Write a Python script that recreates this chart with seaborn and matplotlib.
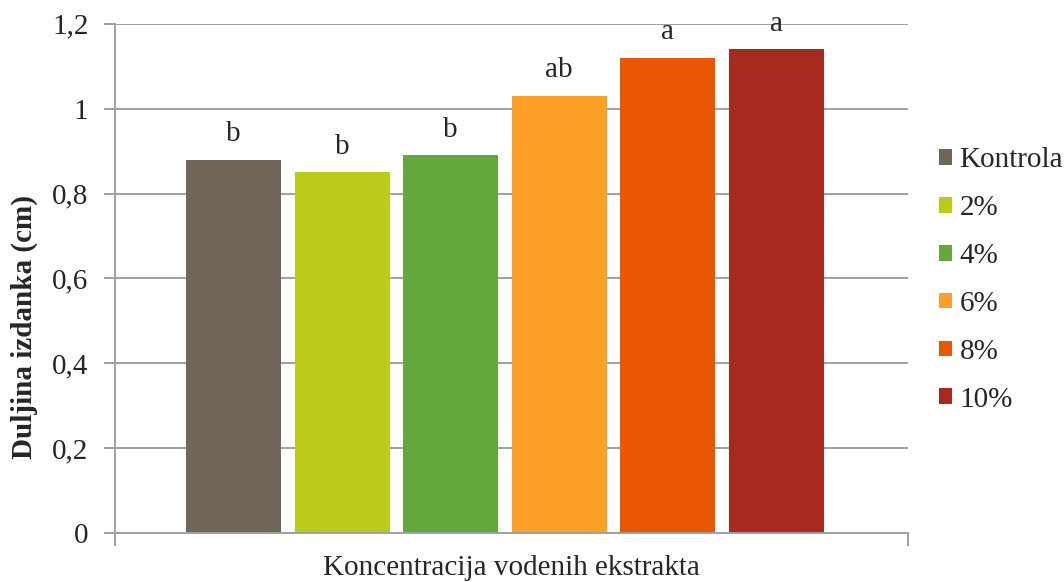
import matplotlib
matplotlib.use("Agg")
import matplotlib.pyplot as plt
import seaborn as sns
import pandas as pd

grupe = ["Kontrola", "2%", "4%", "6%", "8%", "10%"]
duljina = [0.88, 0.85, 0.89, 1.03, 1.12, 1.14]
slova = ["b", "b", "b", "ab", "a", "a"]
boje = ["#716759", "#BACB1C", "#64A73D", "#FCA026", "#EB5705", "#A82A1F"]
yticks = [0, 0.2, 0.4, 0.6, 0.8, 1.0, 1.2]
ytick_labels = ["0", "0,2", "0,4", "0,6", "0,8", "1", "1,2"]

df = pd.DataFrame({"x": ["Koncentracija vodenih ekstrakta"] * len(grupe),
                   "grupa": grupe, "duljina": duljina})

sns.set_style("white")
plt.rcParams["font.family"] = ["Liberation Serif", "DejaVu Serif"]
fs = 21

fig = plt.figure(figsize=(10.64, 5.82), dpi=100)
ax = fig.add_axes([0.108, 0.084, 0.745, 0.875])

sns.barplot(data=df, x="x", y="duljina", hue="grupa", hue_order=grupe,
            palette=boje, width=0.822, gap=0.125, saturation=1, errorbar=None,
            linewidth=0, ax=ax)

# slova iznad stupaca
for cont, s in zip(ax.containers, slova):
    bar = cont[0]
    ax.text(bar.get_x() + bar.get_width() / 2, bar.get_height() + 0.03, s,
            ha="center", va="bottom", fontsize=fs)

ax.set_ylim(0, 1.2)
ax.set_xlim(-0.492, 0.508)
ax.set_yticks(yticks)
ax.set_yticklabels(ytick_labels, fontsize=fs)
ax.yaxis.grid(True, color="#A0A0A0", linewidth=1.4)
ax.set_axisbelow(True)
ax.tick_params(axis="y", left=True, length=8, color="#A0A0A0", width=1.4, pad=11)

ax.set_xticks([-0.492, 0.508])
ax.set_xticklabels(["", ""])
ax.tick_params(axis="x", bottom=True, length=9, color="#A0A0A0", width=1.4)
ax.set_xlabel("Koncentracija vodenih ekstrakta", fontsize=fs, labelpad=3)
ax.set_ylabel("Duljina izdanka (cm)", fontsize=fs, fontweight="bold")
ax.yaxis.set_label_coords(-0.097, 0.405)

for side in ["top", "right"]:
    ax.spines[side].set_visible(False)
for side in ["left", "bottom"]:
    ax.spines[side].set_color("#A0A0A0")
    ax.spines[side].set_linewidth(1.4)

handles, labels = ax.get_legend_handles_labels()
ax.legend(handles, labels, loc="center left", bbox_to_anchor=(1.025, 0.497),
          frameon=False, fontsize=fs, handlelength=0.45, handleheight=0.45,
          handletextpad=0.25, labelspacing=0.75, borderaxespad=0)

plt.savefig("out.png", dpi=100)
